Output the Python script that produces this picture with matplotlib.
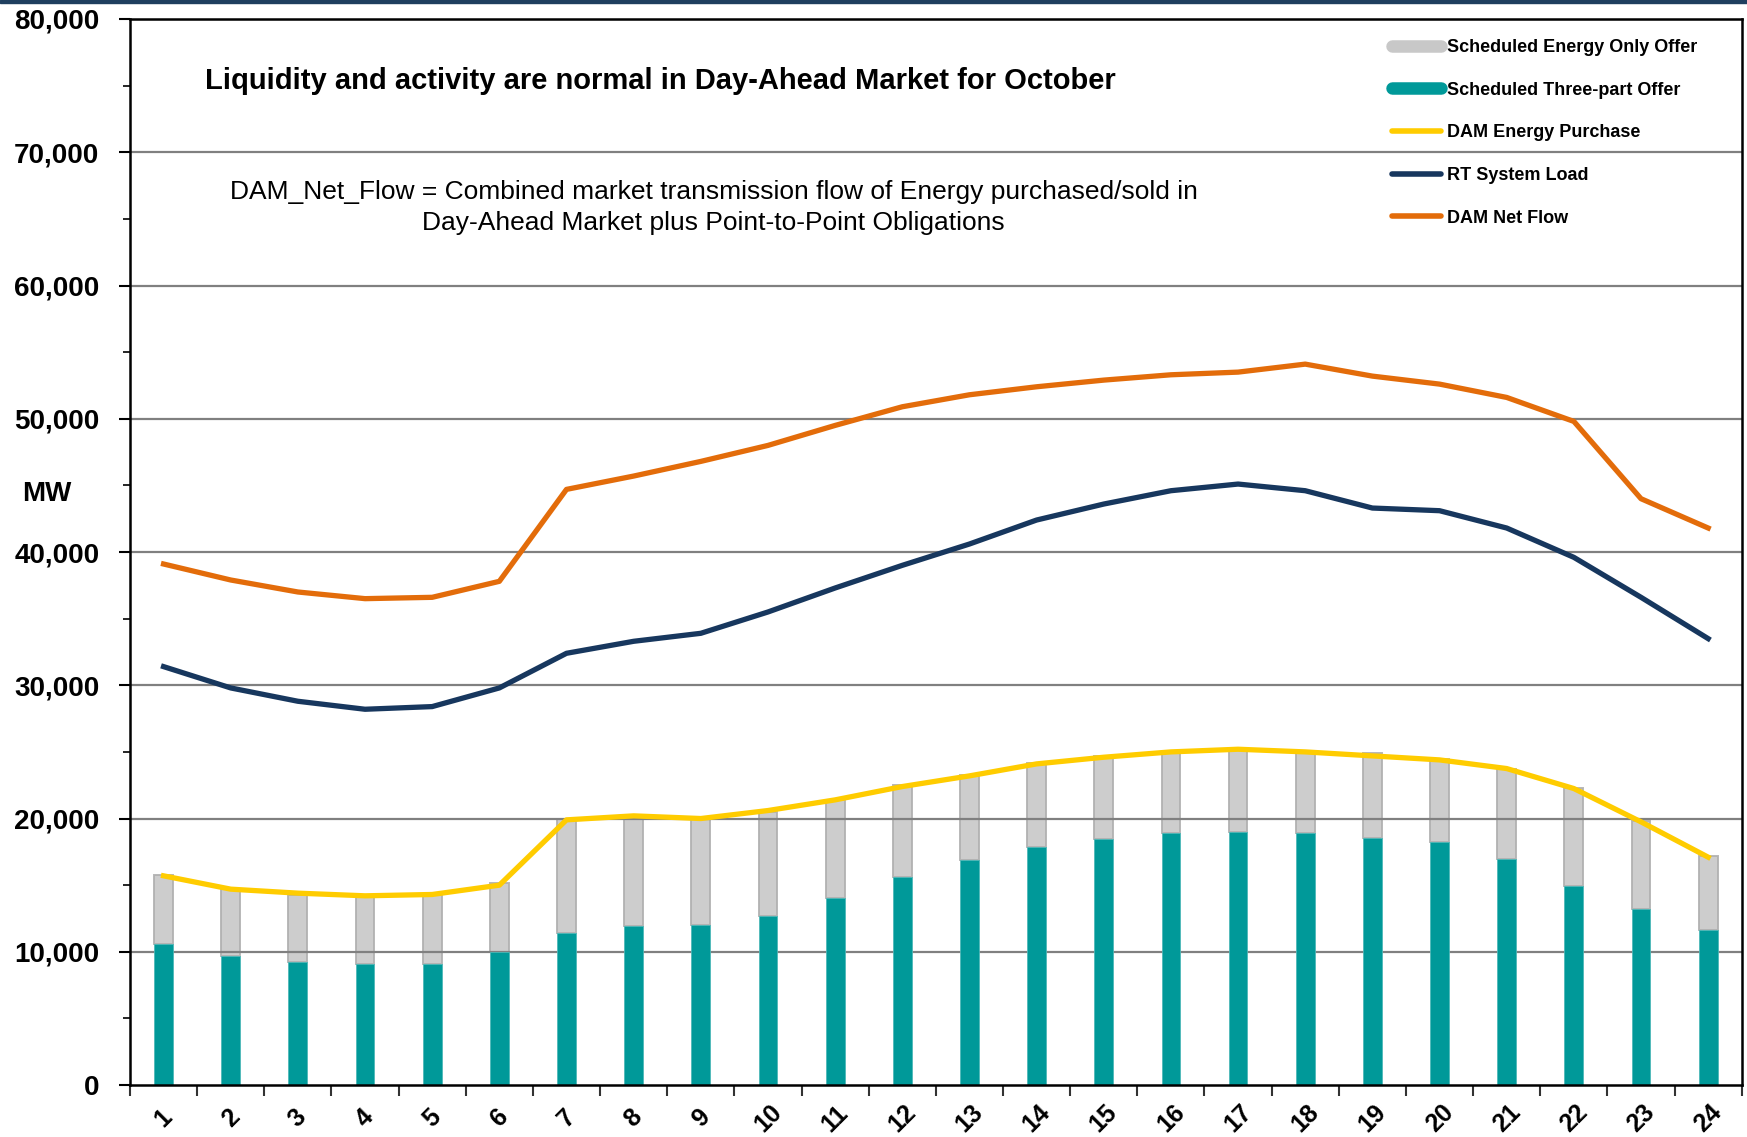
import numpy as np
import matplotlib.pyplot as plt
from matplotlib.lines import Line2D
from matplotlib.patches import Rectangle
from matplotlib.ticker import FuncFormatter, MultipleLocator

plt.rcParams['font.family'] = ['Liberation Sans', 'DejaVu Sans']

# ============================================================
# Data (MW, by hour ending)
# ============================================================

hours = [str(h) for h in range(1, 25)]

three_part = [10550, 9700, 9250, 9080, 9100, 10000, 11400, 11900, 12000, 12700, 14000, 15600,
              16900, 17900, 18500, 18900, 19000, 18900, 18550, 18250, 16950, 14950, 13200, 11630]
energy_only = [5200, 5000, 5000, 5120, 5150, 5130, 8600, 8200, 8000, 7800, 7400, 6900,
               6400, 6300, 6200, 6100, 6260, 6200, 6350, 6250, 6800, 7350, 6600, 5550]
dam_purchase = [15700, 14700, 14400, 14200, 14300, 15000, 19900, 20200, 20000, 20600, 21400, 22400,
                23200, 24100, 24600, 25000, 25200, 25000, 24700, 24400, 23750, 22250, 19750, 17100]
rt_load = [31400, 29800, 28800, 28200, 28400, 29800, 32400, 33300, 33900, 35500, 37300, 39000,
           40600, 42400, 43600, 44600, 45100, 44600, 43300, 43100, 41800, 39600, 36600, 33500]
dam_net_flow = [39100, 37900, 37000, 36500, 36600, 37800, 44700, 45700, 46800, 48000, 49500, 50900,
                51800, 52400, 52900, 53300, 53500, 54100, 53200, 52600, 51600, 49800, 44000, 41800]

C_GREY = '#C8C8C8'
C_TEAL = '#009999'
C_YELLOW = '#FFCC00'
C_NAVY = '#17375E'
C_ORANGE = '#E36C0A'

# ============================================================
# Plot
# ============================================================

fig = plt.figure(figsize=(17.47, 11.37), dpi=100)
ax = fig.add_axes([0.0744, 0.0457, 0.9226, 0.9376])

x = np.arange(1, 25)
w = 0.28

# gridlines sit between the grey and teal bars
for yv in range(10000, 80001, 10000):
    ax.axhline(yv, color='#808080', lw=1.6, zorder=1.5)

ax.bar(x, three_part, width=w, color=C_TEAL, edgecolor='#4DB8B8', lw=0.6, zorder=2)
ax.bar(x, energy_only, bottom=three_part, width=w, color=C_GREY, edgecolor='#B0B0B0',
       lw=1.4, zorder=1, alpha=0.9)

ax.plot(x, dam_purchase, color=C_YELLOW, lw=3.8, zorder=3)
ax.plot(x, rt_load, color=C_NAVY, lw=3.8, zorder=3)
ax.plot(x, dam_net_flow, color=C_ORANGE, lw=3.8, zorder=3)

ax.set_xlim(0.5, 24.5)
ax.set_ylim(0, 80000)

ax.yaxis.set_major_locator(MultipleLocator(10000))
ax.yaxis.set_minor_locator(MultipleLocator(5000))
ax.yaxis.set_major_formatter(FuncFormatter(lambda v, p: f'{int(v):,}'))
ax.tick_params(axis='y', which='major', length=8, width=1.5, pad=14, labelsize=20)
ax.tick_params(axis='y', which='minor', length=5, width=1.2)
for t in ax.get_yticklabels():
    t.set_fontweight('bold')

# ticks at hour boundaries, labels at centres
ax.set_xticks(np.arange(0.5, 25, 1))
ax.set_xticklabels([])
ax.set_xticks(x, minor=True)
ax.set_xticklabels(hours, minor=True, rotation=45, fontsize=18, fontweight='bold',
                   ha='center', rotation_mode='anchor', va='center')
ax.tick_params(axis='x', which='major', length=8, width=1.5, color='#333333')
ax.tick_params(axis='x', which='minor', length=0, pad=24)

for s in ax.spines.values():
    s.set_linewidth(1.8)
    s.set_color('black')

fig.text(47 / 1747, 1 - 494 / 1137, 'MW', fontsize=20, fontweight='bold',
         ha='center', va='center')

ax.text(0.329, 0.942, 'Liquidity and activity are normal in Day-Ahead Market for October',
        transform=ax.transAxes, fontsize=21, fontweight='bold', ha='center', va='center')
ax.text(0.362, 0.823,
        'DAM_Net_Flow = Combined market transmission flow of Energy purchased/sold in\n'
        'Day-Ahead Market plus Point-to-Point Obligations',
        transform=ax.transAxes, fontsize=19, ha='center', va='center', linespacing=1.38)

handles = [
    Line2D([], [], color=C_GREY, lw=9, solid_capstyle='round'),
    Line2D([], [], color=C_TEAL, lw=9, solid_capstyle='round'),
    Line2D([], [], color=C_YELLOW, lw=4, solid_capstyle='round'),
    Line2D([], [], color=C_NAVY, lw=4, solid_capstyle='round'),
    Line2D([], [], color=C_ORANGE, lw=4, solid_capstyle='round'),
]
labels = ['Scheduled Energy Only Offer', 'Scheduled Three-part Offer', 'DAM Energy Purchase',
          'RT System Load', 'DAM Net Flow']
fig.legend(handles, labels, loc='upper left', bbox_to_anchor=(1392 / 1747, 1 - 39 / 1137),
           frameon=False, prop={'weight': 'bold', 'size': 13}, handlelength=2.7,
           handletextpad=0.35, labelspacing=1.42, borderaxespad=0, borderpad=0)

# dark band across the top edge
fig.patches.append(Rectangle((0, 1 - 3 / 1137), 1, 3 / 1137, transform=fig.transFigure,
                             color='#1F3F5F', zorder=10))

fig.savefig('out.png', dpi=100)
